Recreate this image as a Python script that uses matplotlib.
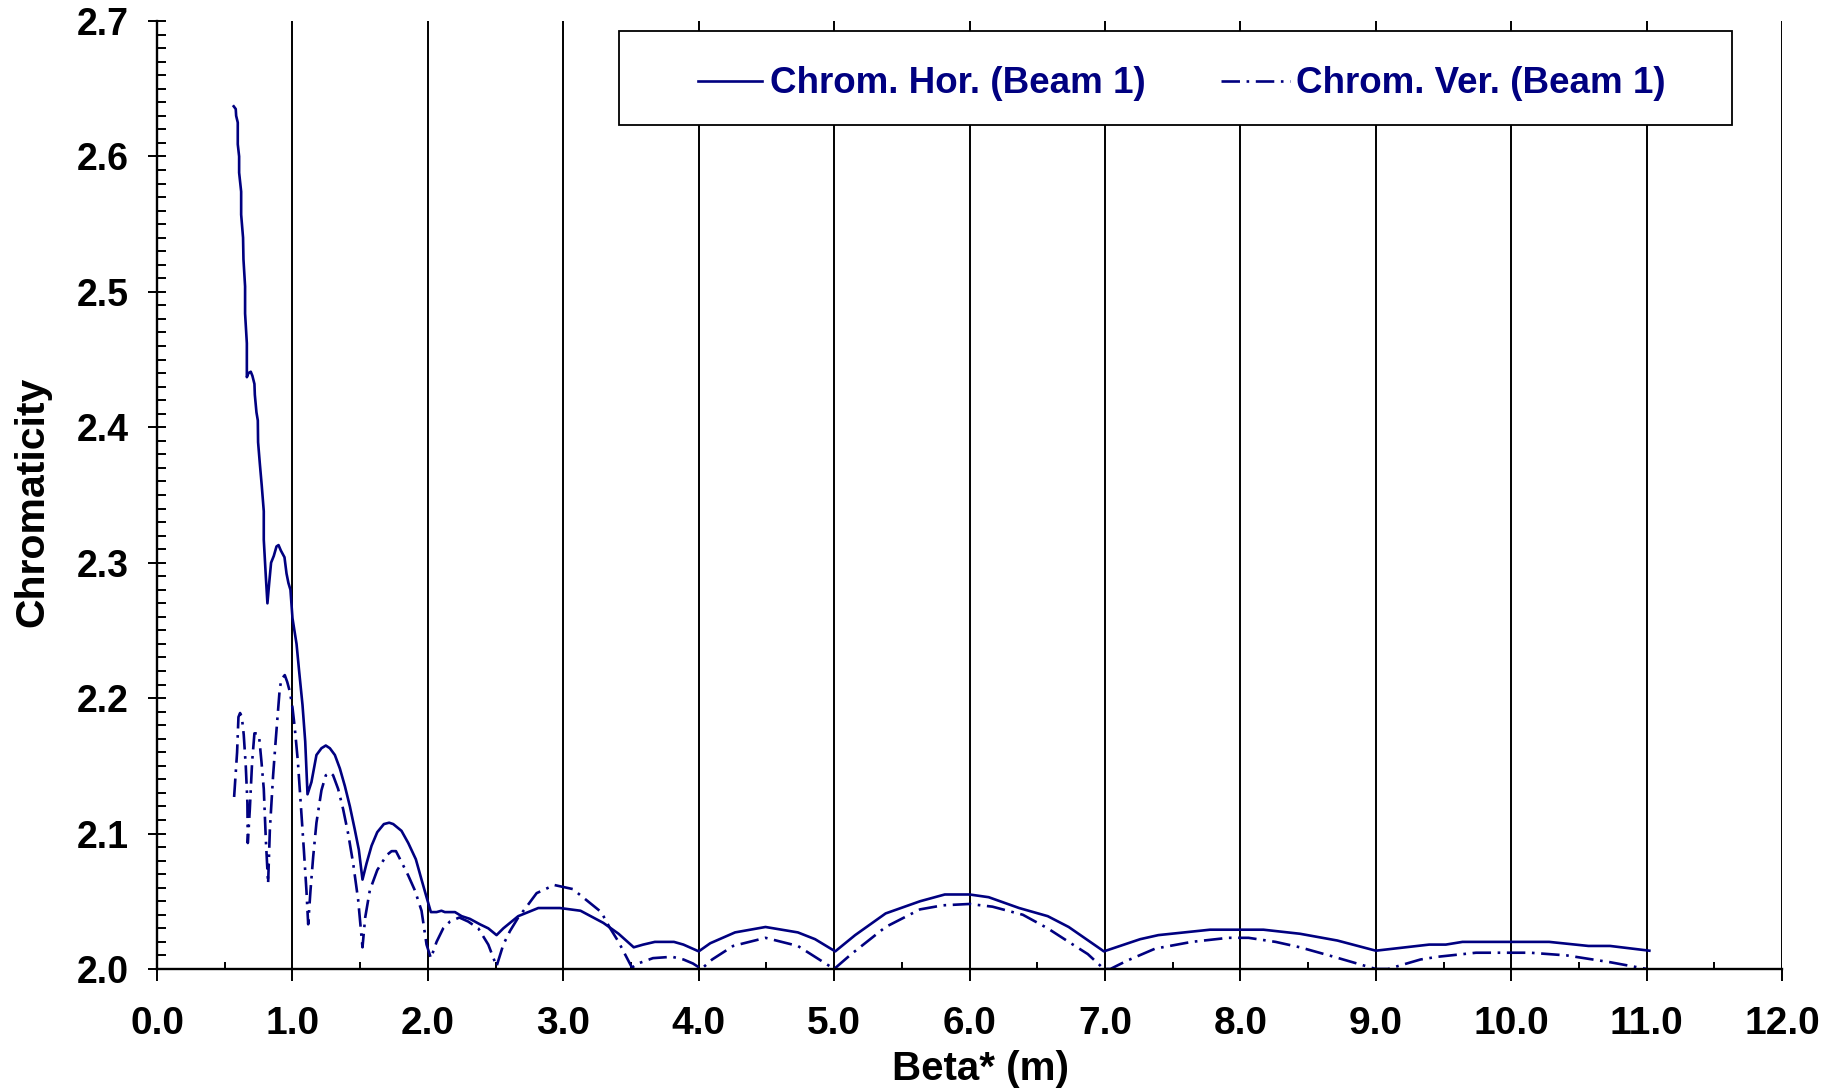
import matplotlib
matplotlib.use("Agg")
import matplotlib.pyplot as plt
from matplotlib.ticker import MultipleLocator, FormatStrFormatter
from matplotlib.patches import Rectangle

plt.rcParams["font.family"] = ["Liberation Sans", "DejaVu Sans"]
plt.rcParams["font.weight"] = "bold"

# Beta* scan, horizontal chromaticity (Beam 1)
beta_hor = [
    0.566, 0.581, 0.584, 0.596, 0.596, 0.606, 0.606, 0.621, 0.621, 0.635,
    0.638, 0.650, 0.650, 0.663, 0.663, 0.675, 0.692, 0.704, 0.719, 0.722,
    0.734, 0.744, 0.746, 0.759, 0.773, 0.788, 0.788, 0.803, 0.815, 0.828,
    0.842, 0.862, 0.882, 0.897, 0.914, 0.941, 0.956, 0.970, 0.985, 1.000,
    1.030, 1.049, 1.074, 1.094, 1.111, 1.140, 1.177, 1.214, 1.246, 1.276,
    1.313, 1.350, 1.387, 1.424, 1.460, 1.490, 1.517, 1.547, 1.584, 1.626,
    1.675, 1.714, 1.744, 1.805, 1.855, 1.911, 1.953, 1.990, 2.022, 2.064,
    2.100, 2.125, 2.200, 2.249, 2.310, 2.384, 2.446, 2.507, 2.557, 2.667,
    2.815, 2.975, 3.127, 3.296, 3.408, 3.520, 3.590, 3.676, 3.817, 3.887,
    4.000, 4.085, 4.268, 4.493, 4.732, 4.859, 5.008, 5.155, 5.380, 5.634,
    5.817, 6.000, 6.141, 6.366, 6.577, 6.732, 6.992, 7.260, 7.394, 7.776,
    8.170, 8.440, 8.716, 9.000, 9.394, 9.517, 9.640, 10.28, 10.57, 10.73,
    11.02,
]
chrom_hor = [
    2.637, 2.635, 2.630, 2.625, 2.609, 2.600, 2.588, 2.574, 2.557, 2.540,
    2.524, 2.504, 2.484, 2.462, 2.437, 2.440, 2.441, 2.438, 2.432, 2.424,
    2.411, 2.405, 2.389, 2.373, 2.357, 2.338, 2.317, 2.290, 2.270, 2.285,
    2.300, 2.305, 2.312, 2.313, 2.309, 2.304, 2.292, 2.285, 2.280, 2.259,
    2.240, 2.220, 2.195, 2.168, 2.129, 2.138, 2.158, 2.163, 2.165, 2.163,
    2.158, 2.148, 2.135, 2.120, 2.103, 2.088, 2.066, 2.078, 2.091, 2.101,
    2.107, 2.108, 2.107, 2.102, 2.093, 2.081, 2.066, 2.053, 2.042, 2.042,
    2.043, 2.042, 2.042, 2.039, 2.037, 2.033, 2.030, 2.025, 2.030, 2.039,
    2.045, 2.045, 2.043, 2.034, 2.026, 2.016, 2.018, 2.020, 2.020, 2.018,
    2.013, 2.019, 2.027, 2.031, 2.027, 2.022, 2.013, 2.025, 2.041, 2.050,
    2.055, 2.055, 2.053, 2.045, 2.039, 2.031, 2.013, 2.022, 2.025, 2.029,
    2.029, 2.026, 2.021, 2.0135, 2.018, 2.018, 2.020, 2.020, 2.017, 2.017,
    2.0135,
]

# Beta* scan, vertical chromaticity (Beam 1)
beta_ver = [
    0.569, 0.591, 0.601, 0.613, 0.626, 0.640, 0.655, 0.667, 0.670, 0.685,
    0.702, 0.719, 0.739, 0.754, 0.771, 0.788, 0.803, 0.820, 0.833, 0.857,
    0.877, 0.906, 0.919, 0.943, 0.961, 0.980, 1.000, 1.017, 1.040, 1.059,
    1.084, 1.103, 1.116, 1.133, 1.153, 1.177, 1.214, 1.246, 1.281, 1.300,
    1.337, 1.374, 1.411, 1.448, 1.485, 1.517, 1.537, 1.571, 1.626, 1.695,
    1.732, 1.764, 1.805, 1.855, 1.904, 1.953, 1.990, 2.022, 2.064, 2.113,
    2.163, 2.232, 2.298, 2.372, 2.446, 2.507, 2.557, 2.606, 2.667, 2.729,
    2.803, 2.933, 3.070, 3.280, 3.340, 3.408, 3.507, 3.550, 3.662, 3.803,
    3.887, 3.958, 4.020, 4.099, 4.254, 4.493, 4.732, 5.000, 5.127, 5.380,
    5.634, 5.803, 6.000, 6.169, 6.394, 6.577, 6.732, 6.873, 6.992, 7.040,
    7.160, 7.370, 7.640, 7.910, 8.060, 8.260, 8.440, 8.690, 9.000, 9.090,
    9.330, 9.456, 9.740, 10.00, 10.14, 10.41, 10.73, 11.00,
]
chrom_ver = [
    2.127, 2.160, 2.186, 2.189, 2.186, 2.173, 2.150, 2.123, 2.093, 2.118,
    2.153, 2.174, 2.174, 2.171, 2.153, 2.133, 2.096, 2.063, 2.103, 2.143,
    2.170, 2.207, 2.214, 2.217, 2.212, 2.205, 2.193, 2.178, 2.153, 2.125,
    2.088, 2.058, 2.033, 2.058, 2.083, 2.108, 2.132, 2.143, 2.145, 2.143,
    2.133, 2.118, 2.100, 2.078, 2.051, 2.016, 2.038, 2.058, 2.073, 2.084,
    2.087, 2.087, 2.079, 2.069, 2.058, 2.043, 2.018, 2.008, 2.020, 2.030,
    2.035, 2.038, 2.035, 2.030, 2.018, 2.002, 2.018, 2.028, 2.038, 2.046,
    2.056, 2.062, 2.059, 2.042, 2.031, 2.020, 2.001, 2.004, 2.008, 2.009,
    2.007, 2.004, 2.000, 2.007, 2.017, 2.023, 2.017, 2.000, 2.011, 2.031,
    2.044, 2.047, 2.048, 2.046, 2.040, 2.030, 2.020, 2.011, 2.000, 2.000,
    2.006, 2.015, 2.020, 2.023, 2.023, 2.020, 2.016, 2.009, 2.000, 2.000,
    2.007, 2.009, 2.012, 2.012, 2.012, 2.010, 2.005, 2.000,
]

labels = ["Chrom. Hor. (Beam 1)", "Chrom. Ver. (Beam 1)"]
navy = "#000080"
dashdot = (0, (7, 2.5, 1, 2.5))

fig = plt.figure(figsize=(18.37, 10.88), dpi=100)
ax = fig.add_axes([0.0855, 0.1094, 0.8846, 0.8713])

ax.plot(beta_hor, chrom_hor, color=navy, lw=1.9)
ax.plot(beta_ver, chrom_ver, color=navy, lw=1.9, linestyle=dashdot)

ax.set_xlim(0, 12)
ax.set_ylim(2.0, 2.7)

ax.xaxis.set_major_locator(MultipleLocator(1.0))
ax.xaxis.set_minor_locator(MultipleLocator(0.5))
ax.yaxis.set_major_locator(MultipleLocator(0.1))
ax.yaxis.set_minor_locator(MultipleLocator(0.01))
ax.xaxis.set_major_formatter(FormatStrFormatter("%.1f"))
ax.yaxis.set_major_formatter(FormatStrFormatter("%.1f"))

ax.tick_params(axis="x", which="major", direction="out", length=8.5, width=1.4,
               pad=18, labelsize=28)
ax.tick_params(axis="x", which="minor", direction="in", length=5, width=1.4)
ax.tick_params(axis="y", which="major", direction="inout", length=13, width=1.4,
               pad=14, labelsize=27)
ax.tick_params(axis="y", which="minor", direction="in", length=6.5, width=1.4)

for side in ("top", "right"):
    ax.spines[side].set_visible(False)
for side in ("left", "bottom"):
    ax.spines[side].set_linewidth(1.7)

ax.xaxis.grid(True, which="major", color="black", lw=1.4)
ax.set_axisbelow(True)

ax.set_xlabel("Beta* (m)", fontsize=29, fontweight="bold", va="center")
ax.xaxis.set_label_coords(0.507, -0.105)
ax.set_ylabel("Chromaticity", fontsize=29.5, fontweight="bold", va="center")
ax.yaxis.set_label_coords(-0.077, 0.493)

# legend box drawn in axes fraction
ax.add_patch(Rectangle((0.284, 0.890), 0.685, 0.099, transform=ax.transAxes,
                       facecolor="white", edgecolor="black", lw=1.3, zorder=5))
ax.plot([0.333, 0.372], [0.937, 0.937], transform=ax.transAxes, color=navy,
        lw=1.9, zorder=6)
ax.text(0.377, 0.934, labels[0], transform=ax.transAxes, color=navy,
        fontsize=26.5, fontweight="bold", va="center", zorder=6)
ax.plot([0.655, 0.697], [0.937, 0.937], transform=ax.transAxes, color=navy,
        lw=1.9, linestyle=dashdot, zorder=6)
ax.text(0.701, 0.934, labels[1], transform=ax.transAxes, color=navy,
        fontsize=26.5, fontweight="bold", va="center", zorder=6)

fig.savefig("out.png", dpi=100, facecolor="white")
